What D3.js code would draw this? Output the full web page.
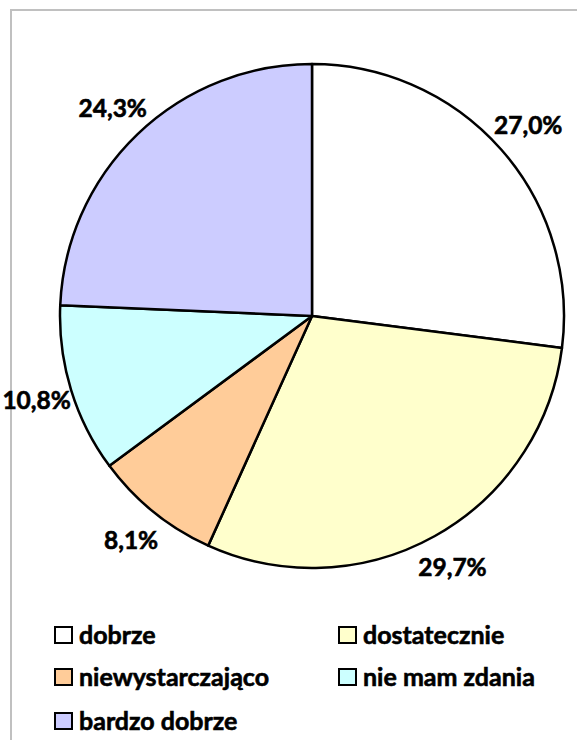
<!DOCTYPE html>
<html>
<head>
<meta charset="utf-8">
<script src="https://cdn.jsdelivr.net/npm/d3@7"></script>
<style>
  body { margin: 0; background: #fff; }
  text { font-family: Lato, "Open Sans", sans-serif; font-weight: bold; fill: #000; stroke: #000; stroke-width: 0.6px; }
</style>
</head>
<body>
<script>
// slice names, values (percent) and fills, clockwise from 12 o'clock
var categories = ["dobrze", "dostatecznie", "niewystarczająco", "nie mam zdania", "bardzo dobrze"];
var values = [27.0, 29.7, 8.1, 10.8, 24.3];
var labels = ["27,0%", "29,7%", "8,1%", "10,8%", "24,3%"];
var colors = ["#ffffff", "#ffffcc", "#ffcc99", "#ccffff", "#ccccff"];

var width = 577,
    height = 740;

var svg = d3.select("body")
    .append("svg")
    .attr("width", width)
    .attr("height", height);

// chart area border (runs off the right and bottom)
svg.append("rect")
    .attr("x", 11)
    .attr("y", 10)
    .attr("width", 600)
    .attr("height", 760)
    .attr("fill", "none")
    .attr("stroke", "#c0c0c0")
    .attr("stroke-width", 2);

var cx = 312, cy = 316, r = 252;

var pie = d3.pie().sort(null).value(function(d){ return d; });
var arcs = pie(values);

var arc = d3.arc().innerRadius(0).outerRadius(r);
var labelArc = d3.arc().innerRadius(r + 36).outerRadius(r + 36);

var g = svg.append("g").attr("transform", "translate(" + cx + "," + cy + ")");

g.selectAll(".slice")
    .data(arcs)
    .enter()
    .append("path")
    .attr("class", "slice")
    .attr("d", arc)
    .attr("fill", function(d, i){ return colors[i]; })
    .attr("stroke", "#000")
    .attr("stroke-width", 2.5)
    .attr("stroke-linejoin", "round");

g.selectAll(".lbl")
    .data(arcs)
    .enter()
    .append("text")
    .attr("class", "lbl")
    .attr("transform", function(d){ return "translate(" + labelArc.centroid(d) + ")"; })
    .attr("text-anchor", "middle")
    .attr("dy", "0.35em")
    .style("font-size", "24.5px")
    .text(function(d, i){ return labels[i]; });

// legend, two columns
var legX = [55, 339],
    legY = [635, 677, 721];

var leg = svg.selectAll(".leg")
    .data(categories)
    .enter()
    .append("g")
    .attr("class", "leg")
    .attr("transform", function(d, i){
        return "translate(" + legX[i % 2] + "," + legY[Math.floor(i / 2)] + ")";
    });

leg.append("rect")
    .attr("x", 0)
    .attr("y", -8)
    .attr("width", 17)
    .attr("height", 16)
    .attr("fill", function(d, i){ return colors[i]; })
    .attr("stroke", "#000")
    .attr("stroke-width", 2);

leg.append("text")
    .attr("x", 24)
    .attr("dy", "0.36em")
    .style("font-size", "25px")
    .text(function(d){ return d; });
</script>
</body>
</html>
